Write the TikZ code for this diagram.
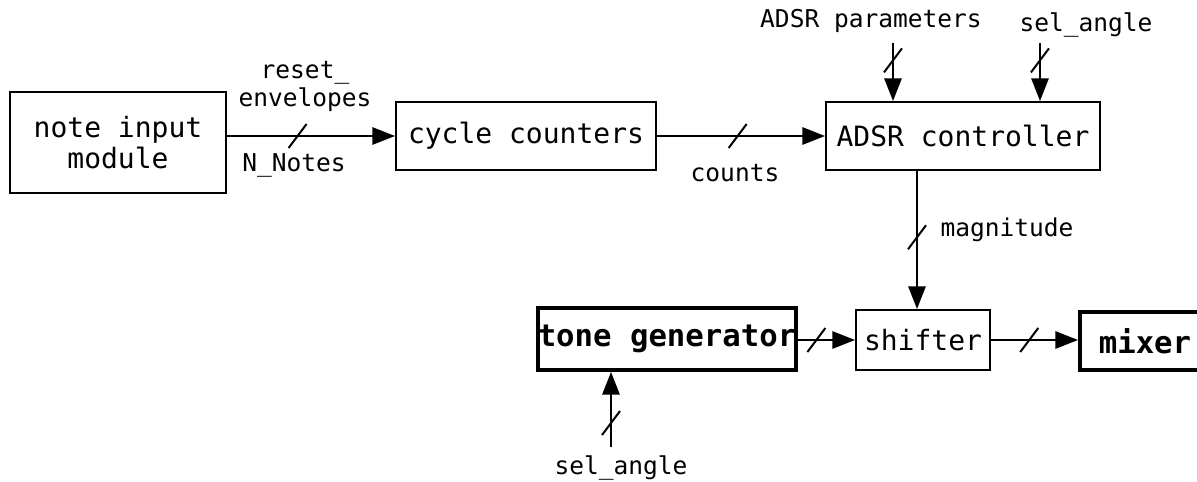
\documentclass[tikz,border=0pt]{standalone}
\usepackage{fontspec}
\setmonofont{DejaVu Sans Mono}
\usetikzlibrary{arrows.meta}
\begin{document}
\begin{tikzpicture}[x=0.75pt,y=-0.75pt,
  blk/.style={draw,line width=1.5pt,inner sep=0pt,align=center,
    font=\ttfamily\fontsize{21}{23.5}\selectfont},
  boldblk/.style={blk,line width=3pt,
    font=\ttfamily\bfseries\fontsize{23}{27}\selectfont},
  sig/.style={line width=1.5pt,-{Triangle[length=17pt,width=13pt]}},
  lbl/.style={inner sep=0pt,align=center,
    font=\ttfamily\fontsize{18.4}{21}\selectfont},
  busmark/.pic={\draw[line width=1.5pt,-] (-9,12) -- (9,-12);}
]
\useasboundingbox (0,0) rectangle (1197,482);

% processing blocks
\node[blk,minimum width=216*0.75pt,minimum height=101*0.75pt] (note) at (118,142.5) {note input\\module};
\node[blk,minimum width=260*0.75pt,minimum height=68*0.75pt] (cyc) at (526,136) {cycle counters};
\node[blk,minimum width=274*0.75pt,minimum height=68*0.75pt] (adsr) at (963,136) {ADSR controller};
\node[boldblk,minimum width=258*0.75pt,minimum height=62*0.75pt] (tone) at (667,339) {tone generator};
\node[blk,minimum width=134*0.75pt,minimum height=60*0.75pt] (shift) at (923,340) {shifter};
\node[boldblk,minimum width=130*0.75pt,minimum height=58*0.75pt] (mix) at (1145,341) {mixer};

% free ends of the input signals
\coordinate (parin) at (893,43);
\coordinate (selin) at (1040,43);
\coordinate (selbot) at (611,447);
\coordinate (magx) at (917,0);

% signal labels
\node[lbl] (lreset) at (305,86) {reset\_\\envelopes};
\node[lbl] (lnotes) at (294,165) {N\_Notes};
\node[lbl] (lcounts) at (735,173) {counts};
\node[lbl] (lpar) at (871,21) {ADSR parameters};
\node[lbl] (lsel) at (1086,25) {sel\_angle};
\node[lbl] (lmag) at (1007,230) {magnitude};
\node[lbl] (lselb) at (621,468) {sel\_angle};

% connections
\draw[sig] (note.east |- cyc.west) -- pic[pos=0.42]{busmark} (cyc.west);
\draw[sig] (cyc.east) -- pic[pos=0.48]{busmark} (adsr.west);
\draw[sig] (parin) -- pic[pos=0.3]{busmark} (parin |- adsr.north);
\draw[sig] (selin) -- pic[pos=0.3]{busmark} (selin |- adsr.north);
\draw[sig] (adsr.south -| magx) -- pic[pos=0.48]{busmark} (shift.north -| magx);
\draw[sig] (tone.east |- shift.west) -- pic[pos=0.32]{busmark} (shift.west);
\draw[sig] (shift.east) -- pic[pos=0.44]{busmark} (shift.east -| mix.west);
\draw[sig] (selbot) -- pic[pos=0.32]{busmark} (selbot |- tone.south);
\end{tikzpicture}
\end{document}
